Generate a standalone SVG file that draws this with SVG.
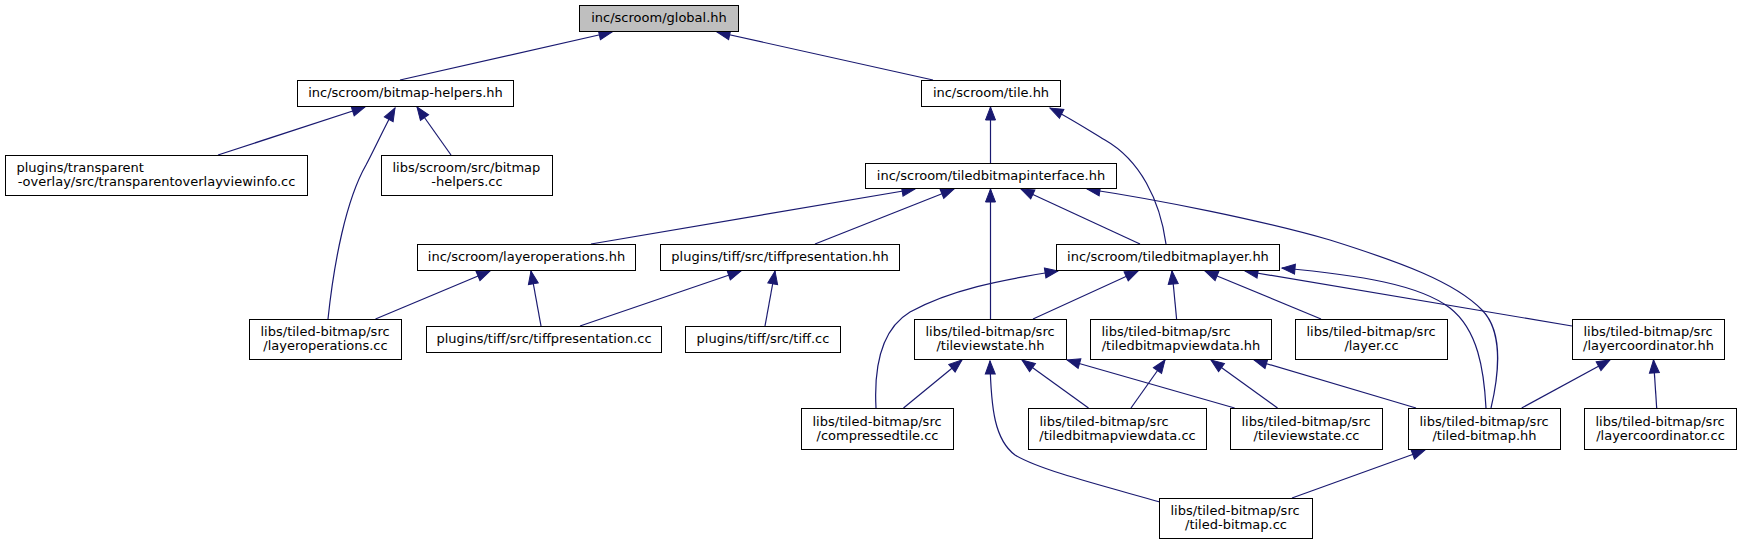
<svg xmlns="http://www.w3.org/2000/svg" width="1741" height="544" viewBox="0 0 1741 544">
<style>
.n rect{fill:#ffffff;stroke:#000000;stroke-width:1}
.n.root rect{fill:#bfbfbf}
.n text{font-family:"DejaVu Sans","Liberation Sans",sans-serif;font-size:13px;fill:#000000}
.c{text-anchor:middle}
.s{text-anchor:start}
#edges path{fill:none;stroke:#191970;stroke-width:1.2;marker-end:url(#ah)}
</style>
<defs>
<marker id="ah" markerUnits="userSpaceOnUse" markerWidth="13" markerHeight="11" viewBox="0 0 13 11" refX="13" refY="5.5" orient="auto" overflow="visible">
<path d="M0,0.5 L13,5.5 L0,10.5 z" fill="#191970" stroke="#191970" stroke-width="1"/>
</marker>
</defs>
<rect width="1741" height="544" fill="#ffffff"/>
<g id="edges">
<path d="M400,80 L612,32"/>
<path d="M933,80 L717,32"/>
<path d="M218,155 L365,107"/>
<path d="M328,319 C334,262 346,200 366,165 C374,150 384,128 395,108"/>
<path d="M451,155 L417,107"/>
<path d="M990.5,163 L990.5,107"/>
<path d="M1166,244 C1160,200 1140,160 1105,140 C1085,128 1068,117 1050,108"/>
<path d="M591,244 L915,189"/>
<path d="M815,244 L954,189"/>
<path d="M990.5,319 L990.5,189"/>
<path d="M1140,244 L1021,189"/>
<path d="M1491,408 C1500,370 1502,330 1482,310 C1455,282 1400,262 1330,240 C1260,220 1160,200 1087,189"/>
<path d="M1486,408 C1484,370 1478,330 1450,308 C1420,285 1360,275 1282,268"/>
<path d="M876,408 C874,370 880,330 910,312 C950,290 1000,280 1058,271"/>
<path d="M1033,319 L1138,271"/>
<path d="M1176.6,319 L1172,271"/>
<path d="M1321,319 L1205,271"/>
<path d="M1572,326 L1245,271"/>
<path d="M375.5,319 L490,271"/>
<path d="M541,326 L531,271"/>
<path d="M580,326 L741,271"/>
<path d="M765,326 L775,271"/>
<path d="M903.5,408 L962,360"/>
<path d="M1160,502 C1100,485 1040,470 1015,455 C995,440 991,410 990,361"/>
<path d="M1088.5,408 L1022,360"/>
<path d="M1234.6,408 L1067,360"/>
<path d="M1131,408 L1165,360"/>
<path d="M1277.5,408 L1211,360"/>
<path d="M1416,408 L1254,360"/>
<path d="M1521.7,408 L1610,360"/>
<path d="M1656.7,408 L1653.5,360"/>
<path d="M1292,498 L1425,450"/>
</g>
<g id="global" class="n root"><rect x="579.5" y="5.5" width="159" height="26"/><text class="c" x="659" y="22">inc/scroom/global.hh</text></g>
<g id="bitmap-helpers-hh" class="n"><rect x="297.5" y="80.5" width="216" height="26"/><text class="c" x="405.5" y="97">inc/scroom/bitmap-helpers.hh</text></g>
<g id="tile-hh" class="n"><rect x="921.5" y="80.5" width="139" height="26"/><text class="c" x="991" y="97">inc/scroom/tile.hh</text></g>
<g id="transparentoverlayviewinfo-cc" class="n"><rect x="5.5" y="155.5" width="302" height="40"/><text class="s" x="16.5" y="172">plugins/transparent</text><text class="c" x="156.5" y="186">-overlay/src/transparentoverlayviewinfo.cc</text></g>
<g id="bitmap-helpers-cc" class="n"><rect x="381.5" y="155.5" width="171" height="40"/><text class="s" x="392.5" y="172">libs/scroom/src/bitmap</text><text class="c" x="467" y="186">-helpers.cc</text></g>
<g id="tiledbitmapinterface-hh" class="n"><rect x="865.5" y="163.5" width="251" height="25"/><text class="c" x="991" y="179.5">inc/scroom/tiledbitmapinterface.hh</text></g>
<g id="layeroperations-hh" class="n"><rect x="417.5" y="244.5" width="218" height="26"/><text class="c" x="526.5" y="261">inc/scroom/layeroperations.hh</text></g>
<g id="tiffpresentation-hh" class="n"><rect x="660.5" y="244.5" width="239" height="26"/><text class="c" x="780" y="261">plugins/tiff/src/tiffpresentation.hh</text></g>
<g id="tiledbitmaplayer-hh" class="n"><rect x="1056.5" y="244.5" width="223" height="26"/><text class="c" x="1168" y="261">inc/scroom/tiledbitmaplayer.hh</text></g>
<g id="layeroperations-cc" class="n"><rect x="249.5" y="319.5" width="152" height="40"/><text class="s" x="260.5" y="336">libs/tiled-bitmap/src</text><text class="c" x="325.5" y="350">/layeroperations.cc</text></g>
<g id="tiffpresentation-cc" class="n"><rect x="426.5" y="326.5" width="235" height="26"/><text class="c" x="544" y="343">plugins/tiff/src/tiffpresentation.cc</text></g>
<g id="tiff-cc" class="n"><rect x="685.5" y="326.5" width="155" height="26"/><text class="c" x="763" y="343">plugins/tiff/src/tiff.cc</text></g>
<g id="tileviewstate-hh" class="n"><rect x="914.5" y="319.5" width="152" height="40"/><text class="s" x="925.5" y="336">libs/tiled-bitmap/src</text><text class="c" x="990.5" y="350">/tileviewstate.hh</text></g>
<g id="tiledbitmapviewdata-hh" class="n"><rect x="1090.5" y="319.5" width="181" height="40"/><text class="s" x="1101.5" y="336">libs/tiled-bitmap/src</text><text class="c" x="1181" y="350">/tiledbitmapviewdata.hh</text></g>
<g id="layer-cc" class="n"><rect x="1295.5" y="319.5" width="152" height="40"/><text class="s" x="1306.5" y="336">libs/tiled-bitmap/src</text><text class="c" x="1371.5" y="350">/layer.cc</text></g>
<g id="layercoordinator-hh" class="n"><rect x="1572.5" y="319.5" width="152" height="40"/><text class="s" x="1583.5" y="336">libs/tiled-bitmap/src</text><text class="c" x="1648.5" y="350">/layercoordinator.hh</text></g>
<g id="compressedtile-cc" class="n"><rect x="801.5" y="408.5" width="152" height="41"/><text class="s" x="812.5" y="425.5">libs/tiled-bitmap/src</text><text class="c" x="877.5" y="439.5">/compressedtile.cc</text></g>
<g id="tiledbitmapviewdata-cc" class="n"><rect x="1028.5" y="408.5" width="178" height="41"/><text class="s" x="1039.5" y="425.5">libs/tiled-bitmap/src</text><text class="c" x="1117.5" y="439.5">/tiledbitmapviewdata.cc</text></g>
<g id="tileviewstate-cc" class="n"><rect x="1230.5" y="408.5" width="152" height="41"/><text class="s" x="1241.5" y="425.5">libs/tiled-bitmap/src</text><text class="c" x="1306.5" y="439.5">/tileviewstate.cc</text></g>
<g id="tiled-bitmap-hh" class="n"><rect x="1408.5" y="408.5" width="152" height="41"/><text class="s" x="1419.5" y="425.5">libs/tiled-bitmap/src</text><text class="c" x="1484.5" y="439.5">/tiled-bitmap.hh</text></g>
<g id="layercoordinator-cc" class="n"><rect x="1584.5" y="408.5" width="152" height="41"/><text class="s" x="1595.5" y="425.5">libs/tiled-bitmap/src</text><text class="c" x="1660.5" y="439.5">/layercoordinator.cc</text></g>
<g id="tiled-bitmap-cc" class="n"><rect x="1159.5" y="498.5" width="153" height="40"/><text class="s" x="1170.5" y="515">libs/tiled-bitmap/src</text><text class="c" x="1236" y="529">/tiled-bitmap.cc</text></g>
</svg>
